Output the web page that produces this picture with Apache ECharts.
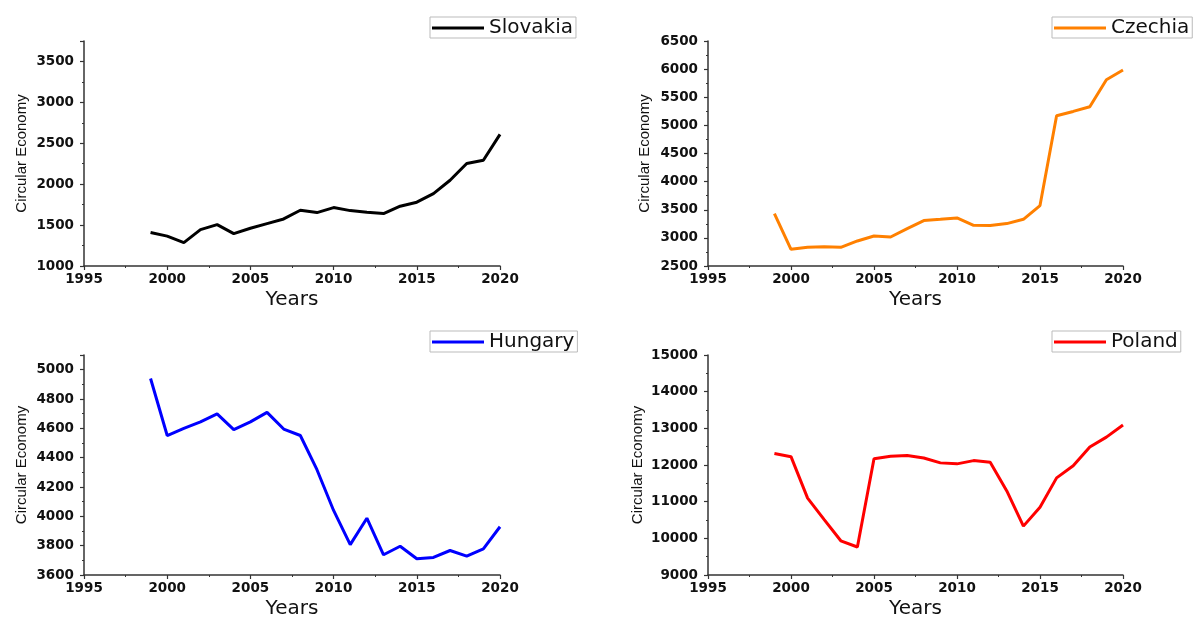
<!DOCTYPE html>
<html>
<head>
<meta charset="utf-8">
<script src="https://cdn.jsdelivr.net/npm/echarts@6/dist/echarts.min.js"></script>
<style>html,body{margin:0;padding:0;background:#fff}#c{width:1195px;height:620px}</style>
</head>
<body>
<div id="c"></div>
<script>
var years = [1999,2000,2001,2002,2003,2004,2005,2006,2007,2008,2009,2010,2011,2012,2013,2014,2015,2016,2017,2018,2019,2020];
var slovakia = [1410,1365,1286,1445,1506,1396,1461,1518,1575,1681,1653,1714,1677,1657,1641,1731,1780,1885,2048,2252,2293,2608];
var czechia = [3432,2797,2832,2844,2832,2945,3034,3016,3165,3307,3330,3355,3224,3218,3254,3330,3574,5171,5248,5331,5812,5984];
var hungary = [4940,4551,4600,4644,4698,4591,4644,4709,4595,4551,4318,4040,3807,3987,3738,3796,3711,3720,3767,3729,3778,3929];
var poland = [12316,12227,11098,10511,9933,9764,12173,12236,12262,12191,12058,12031,12120,12076,11293,10333,10849,11649,11978,12493,12760,13089];

var panels = [
  {name:'Slovakia', values:slovakia, color:'#000000', min:1000, max:3750, interval:500,
   grid:{left:84, top:41, width:416, height:225}, legend:{left:430, top:17}, nameGap:55},
  {name:'Czechia', values:czechia, color:'#ff8000', min:2500, max:6500, interval:500,
   grid:{left:708, top:41, width:415, height:225}, legend:{left:1052, top:17}, nameGap:56},
  {name:'Hungary', values:hungary, color:'#0000ff', min:3600, max:5100, interval:200,
   grid:{left:84, top:355, width:416, height:224}, legend:{left:430, top:331}, nameGap:55},
  {name:'Poland', values:poland, color:'#ff0000', min:9000, max:15000, interval:1000,
   grid:{left:708, top:355, width:415, height:224}, legend:{left:1052, top:331}, nameGap:63}
];

var axisColor = '#333333';
function plain(v){ return String(v); }
var option = {
  animation:false,
  backgroundColor:'#ffffff',
  grid:[], xAxis:[], yAxis:[], series:[], legend:[]
};
panels.forEach(function(p, i){
  option.grid.push(p.grid);
  option.xAxis.push({
    type:'value', gridIndex:i, min:1995, max:2020, interval:5,
    name:'Years', nameLocation:'middle', nameGap:24,
    nameTextStyle:{fontFamily:'DejaVu Sans', fontSize:20, color:'#111'},
    axisLine:{show:true, lineStyle:{color:axisColor, width:1.5}},
    axisTick:{show:true, length:4, lineStyle:{color:axisColor, width:1.2}},
    minorTick:{show:true, splitNumber:2, length:2, lineStyle:{color:axisColor, width:1}},
    splitLine:{show:false},
    axisLabel:{margin:6, formatter:plain, fontFamily:'DejaVu Sans', fontWeight:'bold', fontSize:13.5, color:'#111'}
  });
  option.yAxis.push({
    type:'value', gridIndex:i, min:p.min, max:p.max, interval:p.interval,
    name:'Circular Economy', nameLocation:'middle', nameGap:p.nameGap,
    nameTextStyle:{fontFamily:'Liberation Sans', fontSize:15, color:'#111'},
    axisLine:{show:true, lineStyle:{color:axisColor, width:1.5}},
    axisTick:{show:true, length:4, lineStyle:{color:axisColor, width:1.2}},
    minorTick:{show:true, splitNumber:2, length:2, lineStyle:{color:axisColor, width:1}},
    splitLine:{show:false},
    axisLabel:{margin:10, formatter:plain, showMaxLabel:(p.max % p.interval === 0), fontFamily:'DejaVu Sans', fontWeight:'bold', fontSize:13.5, color:'#111'}
  });
  option.series.push({
    type:'line', name:p.name, xAxisIndex:i, yAxisIndex:i,
    data: years.map(function(y, k){ return [y, p.values[k]]; }),
    symbol:'none', showSymbol:false,
    lineStyle:{color:p.color, width:3}, itemStyle:{color:p.color}
  });
  option.legend.push({
    data:[{name:p.name, icon:'rect'}], left:p.legend.left, top:p.legend.top,
    orient:'horizontal', itemWidth:52, itemHeight:3,
    padding:[1,3,0,2], borderColor:'#bbbbbb', borderWidth:1, backgroundColor:'#ffffff',
    textStyle:{fontFamily:'DejaVu Sans', fontSize:20, color:'#111'},
    selectedMode:false
  });
});
var chart = echarts.init(document.getElementById('c'), null, {renderer:'canvas'});
chart.setOption(option);
</script>
</body>
</html>
